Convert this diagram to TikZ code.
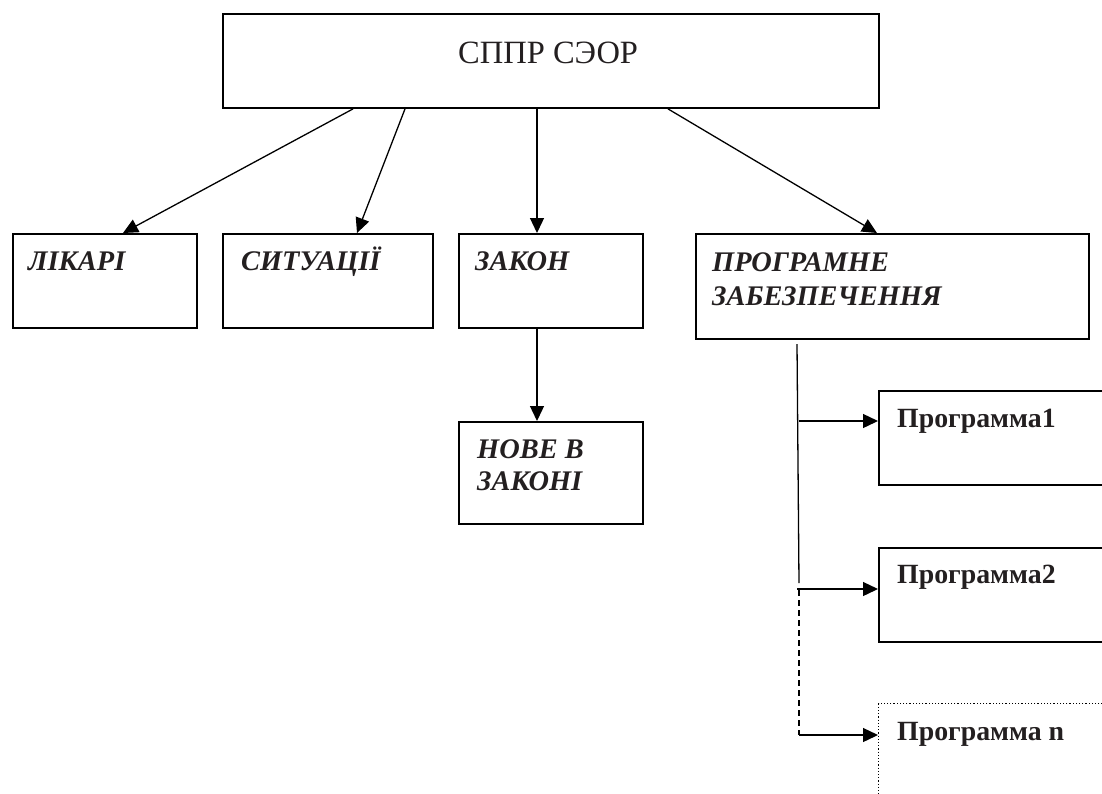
\documentclass[tikz,border=0pt]{standalone}
\usepackage{fontspec}
\setmainfont{Liberation Serif}
\usetikzlibrary{arrows.meta}
\definecolor{ink}{RGB}{35,31,32}
\begin{document}
\begin{tikzpicture}[x=1pt,y=-1pt,
  box/.style={draw, line width=1.9pt, rectangle, inner sep=0pt, anchor=north west},
  dotbox/.style={draw, dotted, line width=1.2pt, rectangle, inner sep=0pt, anchor=north west},
  ln/.style={line width=1.3pt},
  arr/.style={line width=1.3pt, -{Triangle[length=15pt,width=14pt]}},
  lbl/.style={inner sep=0pt, text=ink, font=\fontsize{28.4}{34}\selectfont\bfseries\itshape},
  plbl/.style={inner sep=0pt, text=ink, font=\fontsize{27.8}{30}\selectfont\bfseries},
  ttl/.style={inner sep=0pt, text=ink, font=\fontsize{32.5}{36}\selectfont}]
\useasboundingbox (0,0) rectangle (1102,793);
\clip (0,0) rectangle (1102,793);
\fill[white] (0,0) rectangle (1102,793);

% boxes
\node[box, minimum width=656pt, minimum height=94pt] (top) at (222,13) {};
\node[box, minimum width=184pt, minimum height=94pt] (lik) at (12,233) {};
\node[box, minimum width=210pt, minimum height=94pt] (sit) at (222,233) {};
\node[box, minimum width=184pt, minimum height=94pt] (zak) at (458,233) {};
\node[box, minimum width=393pt, minimum height=105pt] (prog) at (695,233) {};
\node[box, minimum width=184pt, minimum height=102pt] (nove) at (458,421) {};
\node[box, minimum width=260pt, minimum height=94pt] (p1) at (878,390) {};
\node[box, minimum width=260pt, minimum height=94pt] (p2) at (878,547) {};
\node[dotbox, minimum width=260pt, minimum height=120pt] (pn) at (878,703) {};

% texts
\node[ttl, anchor=base west] (topT) at ([xshift=236pt,yshift=-50pt]top.north west) {СППР СЭОР};
\node[lbl, anchor=base west] (likT) at ([xshift=16pt,yshift=-37pt]lik.north west) {ЛІКАРІ};
\node[lbl, anchor=base west] (sitT) at ([xshift=19pt,yshift=-37pt]sit.north west) {СИТУАЦІЇ};
\node[lbl, anchor=base west] (zakT) at ([xshift=17pt,yshift=-37pt]zak.north west) {ЗАКОН};
\node[lbl, anchor=north west, align=left] (progT) at ([xshift=17pt,yshift=-19pt]prog.north west) {ПРОГРАМНЕ\\ЗАБЕЗПЕЧЕННЯ};
\node[lbl, anchor=north west, align=left, font=\fontsize{28.4}{32}\selectfont\bfseries\itshape] (noveT) at ([xshift=19pt,yshift=-18pt]nove.north west) {НОВЕ В\\ЗАКОНІ};
\node[plbl, anchor=base west] (p1T) at ([xshift=19pt,yshift=-37pt]p1.north west) {Программа1};
\node[plbl, anchor=base west] (p2T) at ([xshift=19pt,yshift=-36pt]p2.north west) {Программа2};
\node[plbl, anchor=base west] (pnT) at ([xshift=19pt,yshift=-37pt]pn.north west) {Программа n};

% top arrows
\draw[arr] ([xshift=131pt]top.south west) -- ([xshift=111pt]lik.north west);
\draw[arr] ([xshift=183pt]top.south west) -- ([xshift=135pt]sit.north west);
\draw[arr] ([xshift=315pt]top.south west) -- ([xshift=79pt]zak.north west);
\draw[arr] ([xshift=446pt]top.south west) -- ([xshift=182pt]prog.north west);
\draw[arr] ([xshift=79pt]zak.south west) -- ([xshift=79pt]nove.north west);

% program branch
\coordinate (v0) at (797,344);
\coordinate (v1) at (799,583);
\coordinate (v2) at (799,590);
\coordinate (v3) at (799,735);
\coordinate (h1) at (799,421);
\coordinate (h2) at (797,589);
\coordinate (h3) at (799,735);
\draw[ln] (v0) -- (v1);
\draw[ln, dash pattern=on 6pt off 4pt] (v2) -- (v3);
\draw[arr] (h1) -- (h1 -| p1.west);
\draw[arr] (h2) -- (h2 -| p2.west);
\draw[arr] (h3) -- (h3 -| pn.west);
\end{tikzpicture}
\end{document}
